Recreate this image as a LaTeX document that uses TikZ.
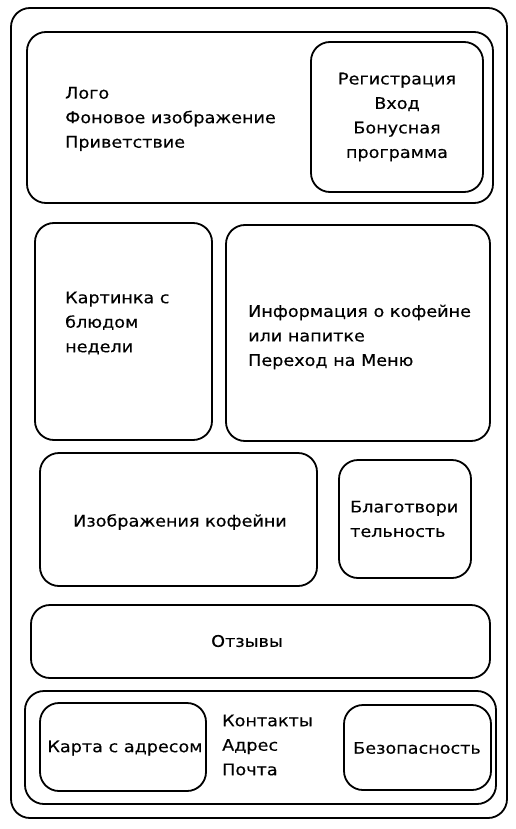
\documentclass[tikz,border=0pt]{standalone}
\usepackage{fontspec}
\setmainfont{DejaVu Sans}[FakeStretch=1.1, FakeBold=0.3]
\tikzstyle{myBox} = [rectangle, draw, line width=1.8pt, rounded corners=19pt, inner sep=0pt]
\tikzstyle{myText} = [align=left, inner sep=0pt, font=\fontsize{16}{24.5}\selectfont]
\begin{document}
\begin{tikzpicture}[x=1pt, y=-1pt]
\useasboundingbox (0,0) rectangle (516,829);
% page and header
\node [myBox, minimum width=496pt, minimum height=810pt] (page) at (259,413) {};
\node [myBox, minimum width=466pt, minimum height=171pt] (head) at (260,117.5) {};
\node [myBox, minimum width=172pt, minimum height=150pt] (reg) at (397,117) {};
\node [myText, anchor=west] (headtxt) at (65,119) {Лого\\Фоновое изображение\\Приветствие};
\node [myText, align=center] (regtxt) at (397,117) {Регистрация\\Вход\\Бонусная\\программа};
% middle rows
\node [myBox, minimum width=177pt, minimum height=217pt] (dish) at (123.5,331.5) {};
\node [myBox, minimum width=264pt, minimum height=216pt] (info) at (358,333) {};
\node [myText, anchor=west] (dishtxt) at (65,323) {Картинка с\\блюдом\\недели};
\node [myText, anchor=west] (infotxt) at (248,337) {Информация о кофейне\\или напитке\\Переход на Меню};
\node [myBox, minimum width=277pt, minimum height=133pt] (cafe) at (178.5,519.5) {};
\node [myBox, minimum width=132pt, minimum height=118pt] (charity) at (405,519) {};
\node [myText] (cafetxt) at (180,522) {Изображения кофейни};
\node [myText, anchor=west] (charitytxt) at (350,519) {Благотвори\\тельность};
\node [myBox, minimum width=459pt, minimum height=73pt] (reviews) at (260.5,641.5) {};
\node [myText] (reviewstxt) at (247,641) {Отзывы};
% footer
\node [myBox, minimum width=471pt, minimum height=113pt] (footer) at (260.5,747.5) {};
\node [myBox, minimum width=166pt, minimum height=88pt] (map) at (123,747) {};
\node [myBox, minimum width=147pt, minimum height=85pt] (safety) at (417.5,747.5) {};
\node [myText] (maptxt) at (125,748) {Карта с адресом};
\node [myText] (safetytxt) at (417,748) {Безопасность};
\node [myText, anchor=west] (contacttxt) at (222,745) {Контакты\\Адрес\\Почта};
\end{tikzpicture}
\end{document}
